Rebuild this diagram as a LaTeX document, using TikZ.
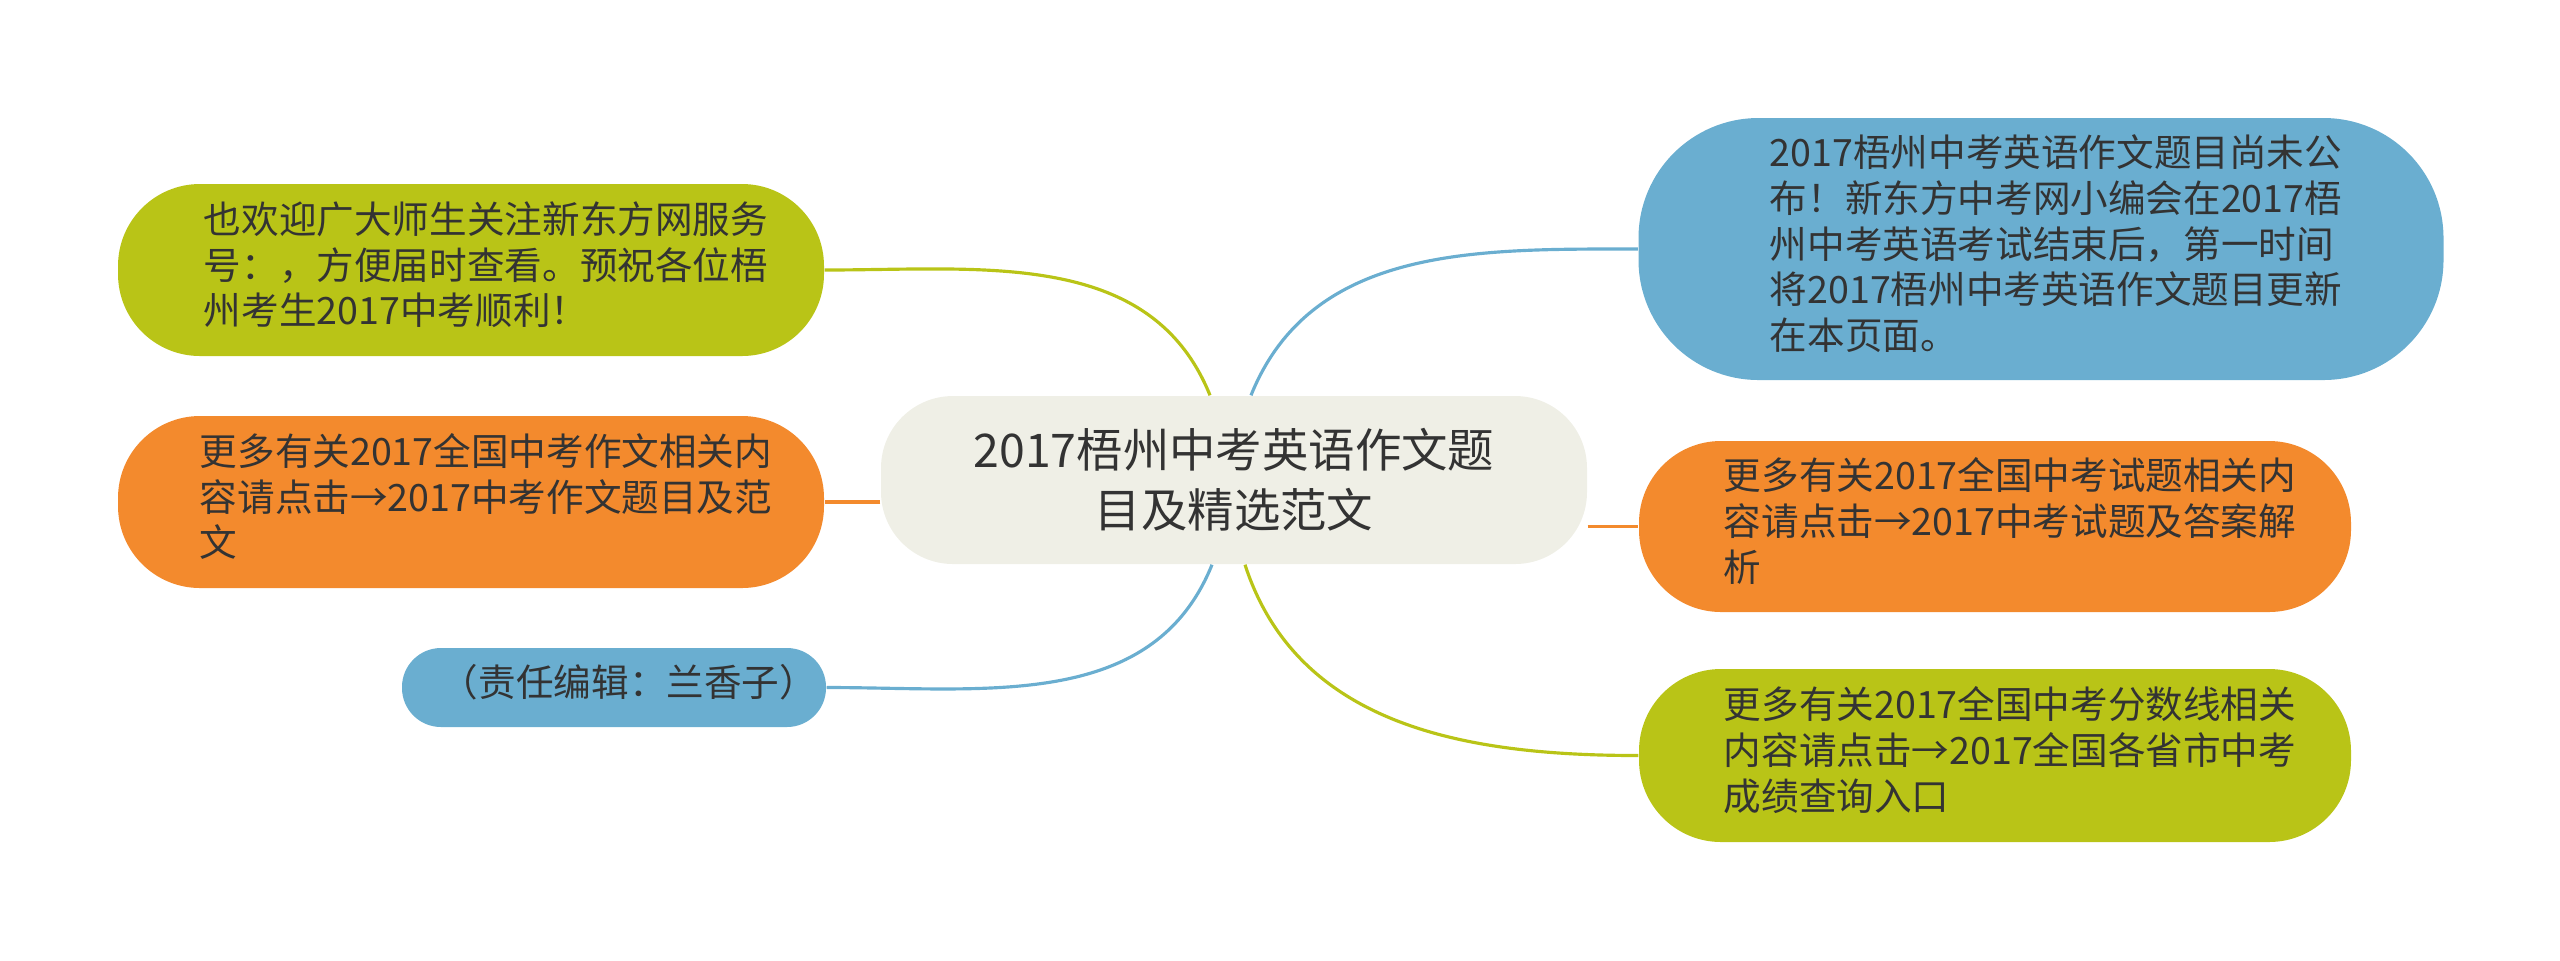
\documentclass[tikz,border=0pt]{standalone}
\usepackage{fontspec}
\setmainfont{Noto Sans CJK SC}
\usepackage{xcolor}

\definecolor{mapgreen}{RGB}{185,196,23}
\definecolor{maporange}{RGB}{243,138,45}
\definecolor{mapblue}{RGB}{106,174,208}
\definecolor{mapcenter}{RGB}{239,239,230}
\definecolor{maptext}{RGB}{51,51,51}

\newcommand{\leaftext}[1]{\hspace*{3mm}\begin{tabular}{@{}l@{}}#1\end{tabular}}

\tikzset{
    leaf/.style={rounded corners=#1, inner sep=0pt, text=maptext,
        font=\fontsize{10.7}{13}\selectfont},
    hub/.style={rounded corners=0.72cm, inner sep=0pt, align=center, text=maptext,
        fill=mapcenter, font=\fontsize{13.2}{17}\selectfont},
    link/.style={line width=0.9pt}
}

\begin{document}
\begin{tikzpicture}
            \useasboundingbox (0,0) rectangle (25.6,-9.6);

            \node[hub, minimum width=7.06cm, minimum height=1.68cm] (c) at (12.34,-4.80)
                {2017梧州中考英语作文题\\目及精选范文};

            \node[leaf=0.82cm, fill=mapgreen, minimum width=7.06cm, minimum height=1.72cm] (ltop) at (4.71,-2.70)
                {\leaftext{也欢迎广大师生关注新东方网服务\\号：，方便届时查看。预祝各位梧\\州考生2017中考顺利！}};
            \node[leaf=0.82cm, fill=maporange, minimum width=7.06cm, minimum height=1.72cm] (lmid) at (4.71,-5.02)
                {\leaftext{更多有关2017全国中考作文相关内\\容请点击→2017中考作文题目及范\\文}};
            \node[leaf=0.39cm, fill=mapblue, minimum width=4.24cm, minimum height=0.79cm] (lbot) at (6.14,-6.875)
                {\leaftext{（责任编辑：兰香子）}};

            \node[leaf=1.2cm, fill=mapblue, minimum width=8.05cm, minimum height=2.62cm] (rtop) at (20.41,-2.49)
                {\leaftext{2017梧州中考英语作文题目尚未公\\布！新东方中考网小编会在2017梧\\州中考英语考试结束后，第一时间\\将2017梧州中考英语作文题目更新\\在本页面。}};
            \node[leaf=0.82cm, fill=maporange, minimum width=7.12cm, minimum height=1.71cm] (rmid) at (19.95,-5.265)
                {\leaftext{更多有关2017全国中考试题相关内\\容请点击→2017中考试题及答案解\\析}};
            \node[leaf=0.82cm, fill=mapgreen, minimum width=7.12cm, minimum height=1.73cm] (rbot) at (19.95,-7.555)
                {\leaftext{更多有关2017全国中考分数线相关\\内容请点击→2017全国各省市中考\\成绩查询入口}};

            \draw[link, mapgreen] ([xshift=-2.4mm]c.north) to[out=112,in=0] (ltop.east);
            \draw[link, maporange] (lmid.east -| c.west) -- (lmid.east);
            \draw[link, mapblue] ([xshift=-2.2mm]c.south) to[out=-112,in=0] (lbot.east);
            \draw[link, mapblue] ([xshift=1.7mm]c.north) to[out=68,in=180] (rtop.west);
            \draw[link, maporange] (rmid.west -| c.east) -- (rmid.west);
            \draw[link, mapgreen] ([xshift=1.1mm]c.south) to[out=-72,in=180] (rbot.west);
\end{tikzpicture}
\end{document}
